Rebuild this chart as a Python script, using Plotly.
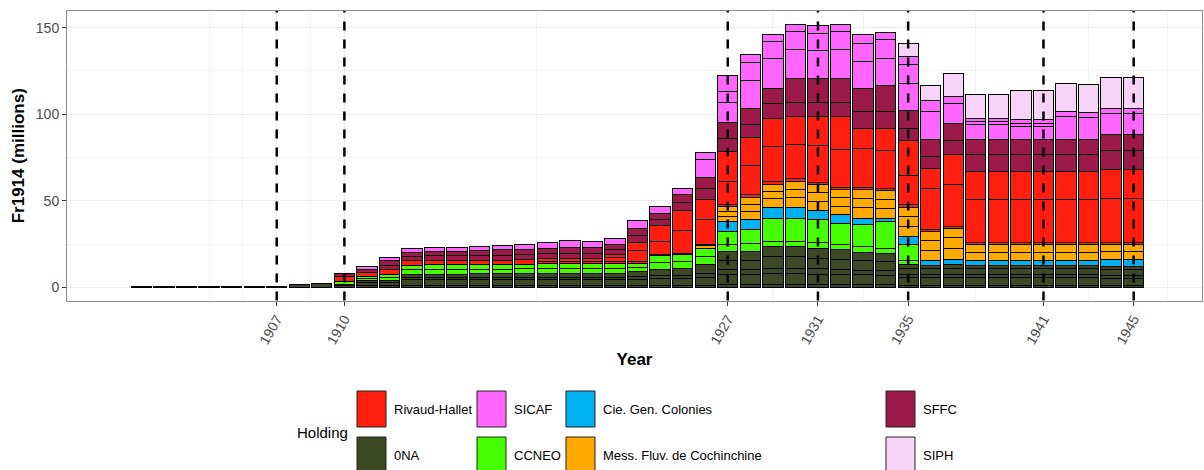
import plotly.graph_objects as go

# ---------------- data ----------------
years_all = list(range(1901, 1946))   # used by the first 0NA company
years = list(range(1910, 1946))       # used by every other company

# 0NA (five companies)
na1 = [0.3, 0.3, 0.3, 0.3, 0.3, 0.3, 0.6, 2.0, 2.5,
       1.0, 1.0, 1.0, 1.0, 1.0, 1.0, 1.0, 1.0, 1.0, 1.0, 1.0, 1.0, 1.0, 1.0,
       1.2, 1.2, 1.3, 1.5, 1.5, 1.5, 1.5, 1.5, 1.5, 1.5, 1.5,
       1.2, 1.2, 1.2, 1.2, 1.2, 1.2, 1.2, 1.2, 1.2, 1.2, 1.2]
na2 = [1.0, 2.0, 2.0, 3.4, 3.4, 3.4, 3.5, 3.5, 3.5, 3.6, 3.6, 3.6, 3.6, 3.8, 4.0, 4.2, 4.5,
       6.0, 6.0, 6.5, 6.5, 6.2, 6.0, 5.8, 5.6,
       4.5, 4.3, 4.5, 4.3, 4.3, 4.3, 4.3, 4.3, 4.3, 4.0, 4.0]
na3 = [0, 1.0, 1.0, 1.3, 1.3, 1.3, 1.3, 1.3, 1.3, 1.3, 1.3, 1.3, 1.3, 1.4, 1.6, 1.8, 2.0,
       3.0, 3.0, 3.2, 3.2, 3.0, 3.0, 2.8, 2.8,
       2.0, 2.0, 2.0, 2.0, 2.0, 2.0, 2.0, 2.0, 2.0, 2.0, 2.0]
na4 = [0, 0, 0, 2.0, 2.0, 2.0, 2.1, 2.2, 2.3, 2.4, 2.4, 2.4, 2.4, 3.0, 3.4, 4.0, 5.3,
       5.3, 5.3, 6.5, 6.5, 6.2, 5.8, 5.3, 5.1,
       3.4, 3.2, 3.4, 3.2, 3.2, 3.2, 3.2, 3.2, 3.2, 3.0, 3.0]
na5 = [0, 0, 0, 0, 0, 0, 0, 0, 0, 0, 0, 0, 0, 0, 0, 0, 0,
       5.0, 5.0, 6.0, 6.0, 5.8, 5.5, 5.0, 4.8,
       2.0, 2.0, 2.0, 2.0, 2.0, 2.0, 2.0, 2.0, 2.0, 1.9, 1.9]
# CCNEO
cc1 = [1.5, 1.2, 1.6, 2.5, 2.7, 2.7, 2.6, 2.6, 2.7, 2.7, 2.7, 2.7, 2.7, 2.4, 4.0, 3.8, 4.8,
       4.0, 4.5, 3.0, 3.0, 3.0, 3.0, 3.0, 3.0,
       2.5, 0, 0, 0, 0, 0, 0, 0, 0, 0, 0]
cc2 = [0, 1.1, 1.7, 2.5, 2.7, 2.7, 2.6, 2.7, 2.7, 2.7, 2.7, 2.7, 2.7, 2.5, 4.1, 3.9, 4.8,
       7.5, 8.0, 13.3, 13.3, 13.4, 12.4, 12.8, 15.3,
       9.0, 0, 0, 0, 0, 0, 0, 0, 0, 0, 0]
# Cie. Gen. Colonies
cgc = [0, 0, 0, 0, 0, 0, 0, 0, 0, 0, 0, 0, 0, 0, 0, 0, 0,
       5.8, 5.8, 6.4, 6.4, 5.2, 4.7, 3.8, 1.5,
       4.8, 2.7, 2.9, 2.7, 2.7, 2.7, 2.7, 2.7, 2.7, 3.9, 3.9]
# Mess. Fluv. de Cochinchine
mf1 = [0, 0, 0, 0, 0, 0, 0, 0, 0, 0, 0, 0, 0, 0, 0, 0, 1.4,
       3.0, 5.0, 5.0, 5.5, 5.5, 5.0, 6.0, 6.0,
       6.0, 6.0, 6.5, 4.8, 4.8, 4.8, 4.8, 4.8, 4.8, 4.5, 4.5]
mf2 = [0, 0, 0, 0, 0, 0, 0, 0, 0, 0, 0, 0, 0, 0, 0, 0, 0,
       3.0, 4.0, 4.3, 4.8, 5.0, 5.0, 5.4, 5.2,
       5.8, 5.9, 6.3, 4.8, 4.8, 4.8, 4.8, 4.8, 4.8, 4.5, 4.5]
mf3 = [0, 0, 0, 0, 0, 0, 0, 0, 0, 0, 0, 0, 0, 0, 0, 0, 0,
       2.6, 3.8, 4.0, 4.5, 4.5, 4.5, 5.0, 5.0,
       5.0, 5.0, 5.5, 0, 0, 0, 0, 0, 0, 0, 0]
# Rivaud-Hallet
rh1 = [2.8, 2.6, 2.9, 2.7, 2.5, 2.5, 2.5, 2.5, 2.5, 1.5, 1.4, 1.4, 1.5, 1.0, 1.0, 1.0, 1.0,
       1.5, 1.5, 1.5, 1.5, 1.5, 1.5, 1.5, 1.5,
       1.9, 1.1, 1.0, 1.0, 1.0, 1.0, 1.0, 1.0, 1.0, 1.0, 1.0]
rh2 = [0, 0, 0, 0, 0, 0, 0, 0, 0, 1.8, 1.5, 1.5, 2.0, 6.0, 7.0, 13.0, 14.0,
       13.0, 17.0, 20.0, 20.0, 21.0, 22.0, 22.1, 22.0,
       16.3, 24.0, 24.0, 24.6, 24.6, 24.6, 24.6, 24.6, 24.6, 25.6, 25.6]
rh3 = [0, 0, 0, 0, 0, 0, 0, 0, 0, 0, 0, 0, 1.7, 4.9, 9.3, 11.5, 11.5,
       17.3, 16.2, 16.5, 16.0, 16.9, 18.8, 12.0, 12.7,
       20.3, 11.5, 17.3, 16.3, 16.3, 16.3, 16.3, 16.3, 16.3, 16.3, 16.3]
# SFFC
sf1 = [2.0, 1.7, 2.5, 2.5, 2.6, 2.7, 2.8, 2.9, 3.0, 2.8, 3.3, 3.3, 2.8, 4.0, 3.4, 4.5, 6.5,
       7.7, 7.7, 8.7, 8.0, 8.0, 8.0, 9.5, 9.5,
       7.3, 7.0, 8.0, 9.6, 9.6, 9.6, 9.6, 9.6, 9.6, 11.0, 11.0]
sf2 = [0, 0, 2.7, 2.5, 2.6, 2.7, 2.8, 3.0, 3.1, 2.9, 3.4, 3.4, 2.9, 4.3, 3.5, 4.6, 6.6,
       9.2, 9.2, 8.6, 14.1, 14.1, 14.1, 13.2, 14.9,
       10.0, 9.3, 10.3, 8.7, 8.7, 8.7, 8.7, 8.7, 8.7, 9.2, 9.2]
# SICAF
si1 = [0, 1.5, 1.9, 1.9, 2.3, 2.3, 2.3, 2.5, 2.5, 3.5, 3.6, 3.2, 3.9, 4.2, 4.2, 3.4, 10.0,
       11.5, 16.0, 17.3, 16.3, 16.0, 16.5, 15.8, 16.0,
       16.0, 16.3, 11.2, 9.0, 9.0, 8.0, 8.0, 13.5, 13.1, 12.1, 12.1]
si2 = [0, 0, 0, 0, 0, 0, 0, 0, 0, 0, 0, 0, 0, 0, 0, 0, 0,
       6.2, 10.6, 9.6, 10.6, 10.0, 10.5, 10.6, 10.5,
       10.6, 6.2, 0, 1.5, 1.5, 1.5, 1.5, 0, 0, 0, 0]
si3 = [0, 0, 0, 0, 0, 0, 0, 0, 0, 0, 0, 0, 0, 0, 0, 0, 4.2,
       9.1, 4.6, 4.3, 3.9, 4.2, 4.2, 4.7, 4.5,
       4.7, 0, 4.1, 2.0, 2.0, 2.1, 2.1, 2.9, 2.9, 3.3, 3.3]
# SIPH
siph = [0, 0, 0, 0, 0, 0, 0, 0, 0, 0, 0, 0, 0, 0, 0, 0, 0,
        0, 0, 0, 0, 0, 0, 0, 0,
        7.7, 8.7, 13.3, 13.5, 13.5, 16.7, 16.7, 16.3, 16.2, 17.7, 17.7]

event_years = [1907, 1910, 1927, 1931, 1935, 1941, 1945]
minor_years = [1904, 1905.5, 1908.5, 1918.5, 1929, 1933, 1938, 1943, 1946.5, 1948]

holdings = ["Rivaud-Hallet", "0NA", "SICAF", "CCNEO",
            "Cie. Gen. Colonies", "Mess. Fluv. de Cochinchine", "SFFC", "SIPH"]

# ---------------- styles ----------------
colors = {
    "0NA": "#3B4A25",
    "CCNEO": "#45FF00",
    "Cie. Gen. Colonies": "#00B0F0",
    "Mess. Fluv. de Cochinchine": "#FFAA00",
    "Rivaud-Hallet": "#FF1E10",
    "SFFC": "#9B1A4A",
    "SICAF": "#FF66FF",
    "SIPH": "#F8D3F8",
}

stack = [
    ("0NA", years_all, na1), ("0NA", years, na2), ("0NA", years, na3),
    ("0NA", years, na4), ("0NA", years, na5),
    ("CCNEO", years, cc1), ("CCNEO", years, cc2),
    ("Cie. Gen. Colonies", years, cgc),
    ("Mess. Fluv. de Cochinchine", years, mf1),
    ("Mess. Fluv. de Cochinchine", years, mf2),
    ("Mess. Fluv. de Cochinchine", years, mf3),
    ("Rivaud-Hallet", years, rh1), ("Rivaud-Hallet", years, rh2),
    ("Rivaud-Hallet", years, rh3),
    ("SFFC", years, sf1), ("SFFC", years, sf2),
    ("SICAF", years, si1), ("SICAF", years, si2), ("SICAF", years, si3),
    ("SIPH", years, siph),
]

FONT = "Liberation Sans, Arial, Helvetica, sans-serif"

fig = go.Figure()
for name, xs, vals in stack:
    fig.add_trace(go.Bar(
        x=xs, y=[v if v else None for v in vals], name=name, width=0.9,
        marker=dict(color=colors[name], line=dict(color="black", width=1)),
        showlegend=False, hoverinfo="x+y+name",
    ))

# dashed vertical event lines
for yr in event_years:
    fig.add_shape(type="line", xref="x", yref="y domain", x0=yr, x1=yr, y0=0, y1=1,
                  line=dict(color="black", width=2.5, dash="dash"), layer="above")

# ---------------- layout geometry ----------------
W, H = 1204, 470
ML, MR, MT, MB = 67, 2, 11, 0
PW, PH = W - ML - MR, H - MT - MB
panel_bottom = 300.5


def px2x(px):
    return (px - ML) / PW


def px2y(py):
    return (H - MB - py) / PH


# custom legend (two rows, four columns, column-major order)
col_left = [357, 477, 566, 886]
row_top = [391, 437]
sq_w, sq_h = 29, 36
for i, name in enumerate(holdings):
    c, r = i // 2, i % 2
    x0, y0 = col_left[c], row_top[r]
    fig.add_shape(type="rect", xref="paper", yref="paper",
                  x0=px2x(x0), x1=px2x(x0 + sq_w), y0=px2y(y0 + sq_h), y1=px2y(y0),
                  fillcolor=colors[name], line=dict(color="#222222", width=1), layer="above")
    fig.add_annotation(xref="paper", yref="paper", x=px2x(x0 + sq_w + 6),
                       y=px2y(y0 + sq_h / 2), text=name, showarrow=False,
                       xanchor="left", yanchor="middle",
                       font=dict(family=FONT, size=13, color="black"))
fig.add_annotation(xref="paper", yref="paper", x=px2x(350), y=px2y(432),
                   text="Holding", showarrow=False, xanchor="right", yanchor="middle",
                   font=dict(family=FONT, size=15, color="black"))

fig.update_layout(
    width=W, height=H, barmode="stack",
    margin=dict(l=ML, r=MR, t=MT, b=MB),
    paper_bgcolor="white", plot_bgcolor="white",
    font=dict(family=FONT, color="#4D4D4D"),
    xaxis=dict(
        range=[1897.7, 1948.03],
        tickmode="array", tickvals=event_years, ticktext=[str(y) for y in event_years],
        tickangle=-60, tickfont=dict(size=14, color="#4D4D4D"),
        ticks="outside", ticklen=4, tickcolor="#333333", tickwidth=1,
        showgrid=True, gridcolor="#EBEBEB", gridwidth=1.2,
        minor=dict(tickmode="array", tickvals=minor_years, showgrid=True,
                   gridcolor="#F2F2F2", gridwidth=0.7, ticks=""),
        showline=True, mirror=True, linecolor="#8C8C8C", linewidth=1,
        zeroline=False,
        title=dict(text="<b>Year</b>", font=dict(size=17, color="black"), standoff=6),
    ),
    yaxis=dict(
        domain=[px2y(panel_bottom), 1],
        range=[-7.5, 159.6],
        tickmode="array", tickvals=[0, 50, 100, 150],
        tickfont=dict(size=14, color="#4D4D4D"),
        ticks="outside", ticklen=4, tickcolor="#333333", tickwidth=1,
        showgrid=True, gridcolor="#EBEBEB", gridwidth=1.2,
        minor=dict(tickmode="array", tickvals=[25, 75, 125], showgrid=True,
                   gridcolor="#F2F2F2", gridwidth=0.7, ticks=""),
        showline=True, mirror=True, linecolor="#8C8C8C", linewidth=1,
        zeroline=False,
        title=dict(text="<b>Fr1914 (millions)</b>", font=dict(size=17, color="black"),
                   standoff=6),
    ),
)

fig.write_html(
    "out.html",
    config={"displayModeBar": False},
    post_script="document.body.style.margin='0';document.body.style.overflow='hidden';",
)
